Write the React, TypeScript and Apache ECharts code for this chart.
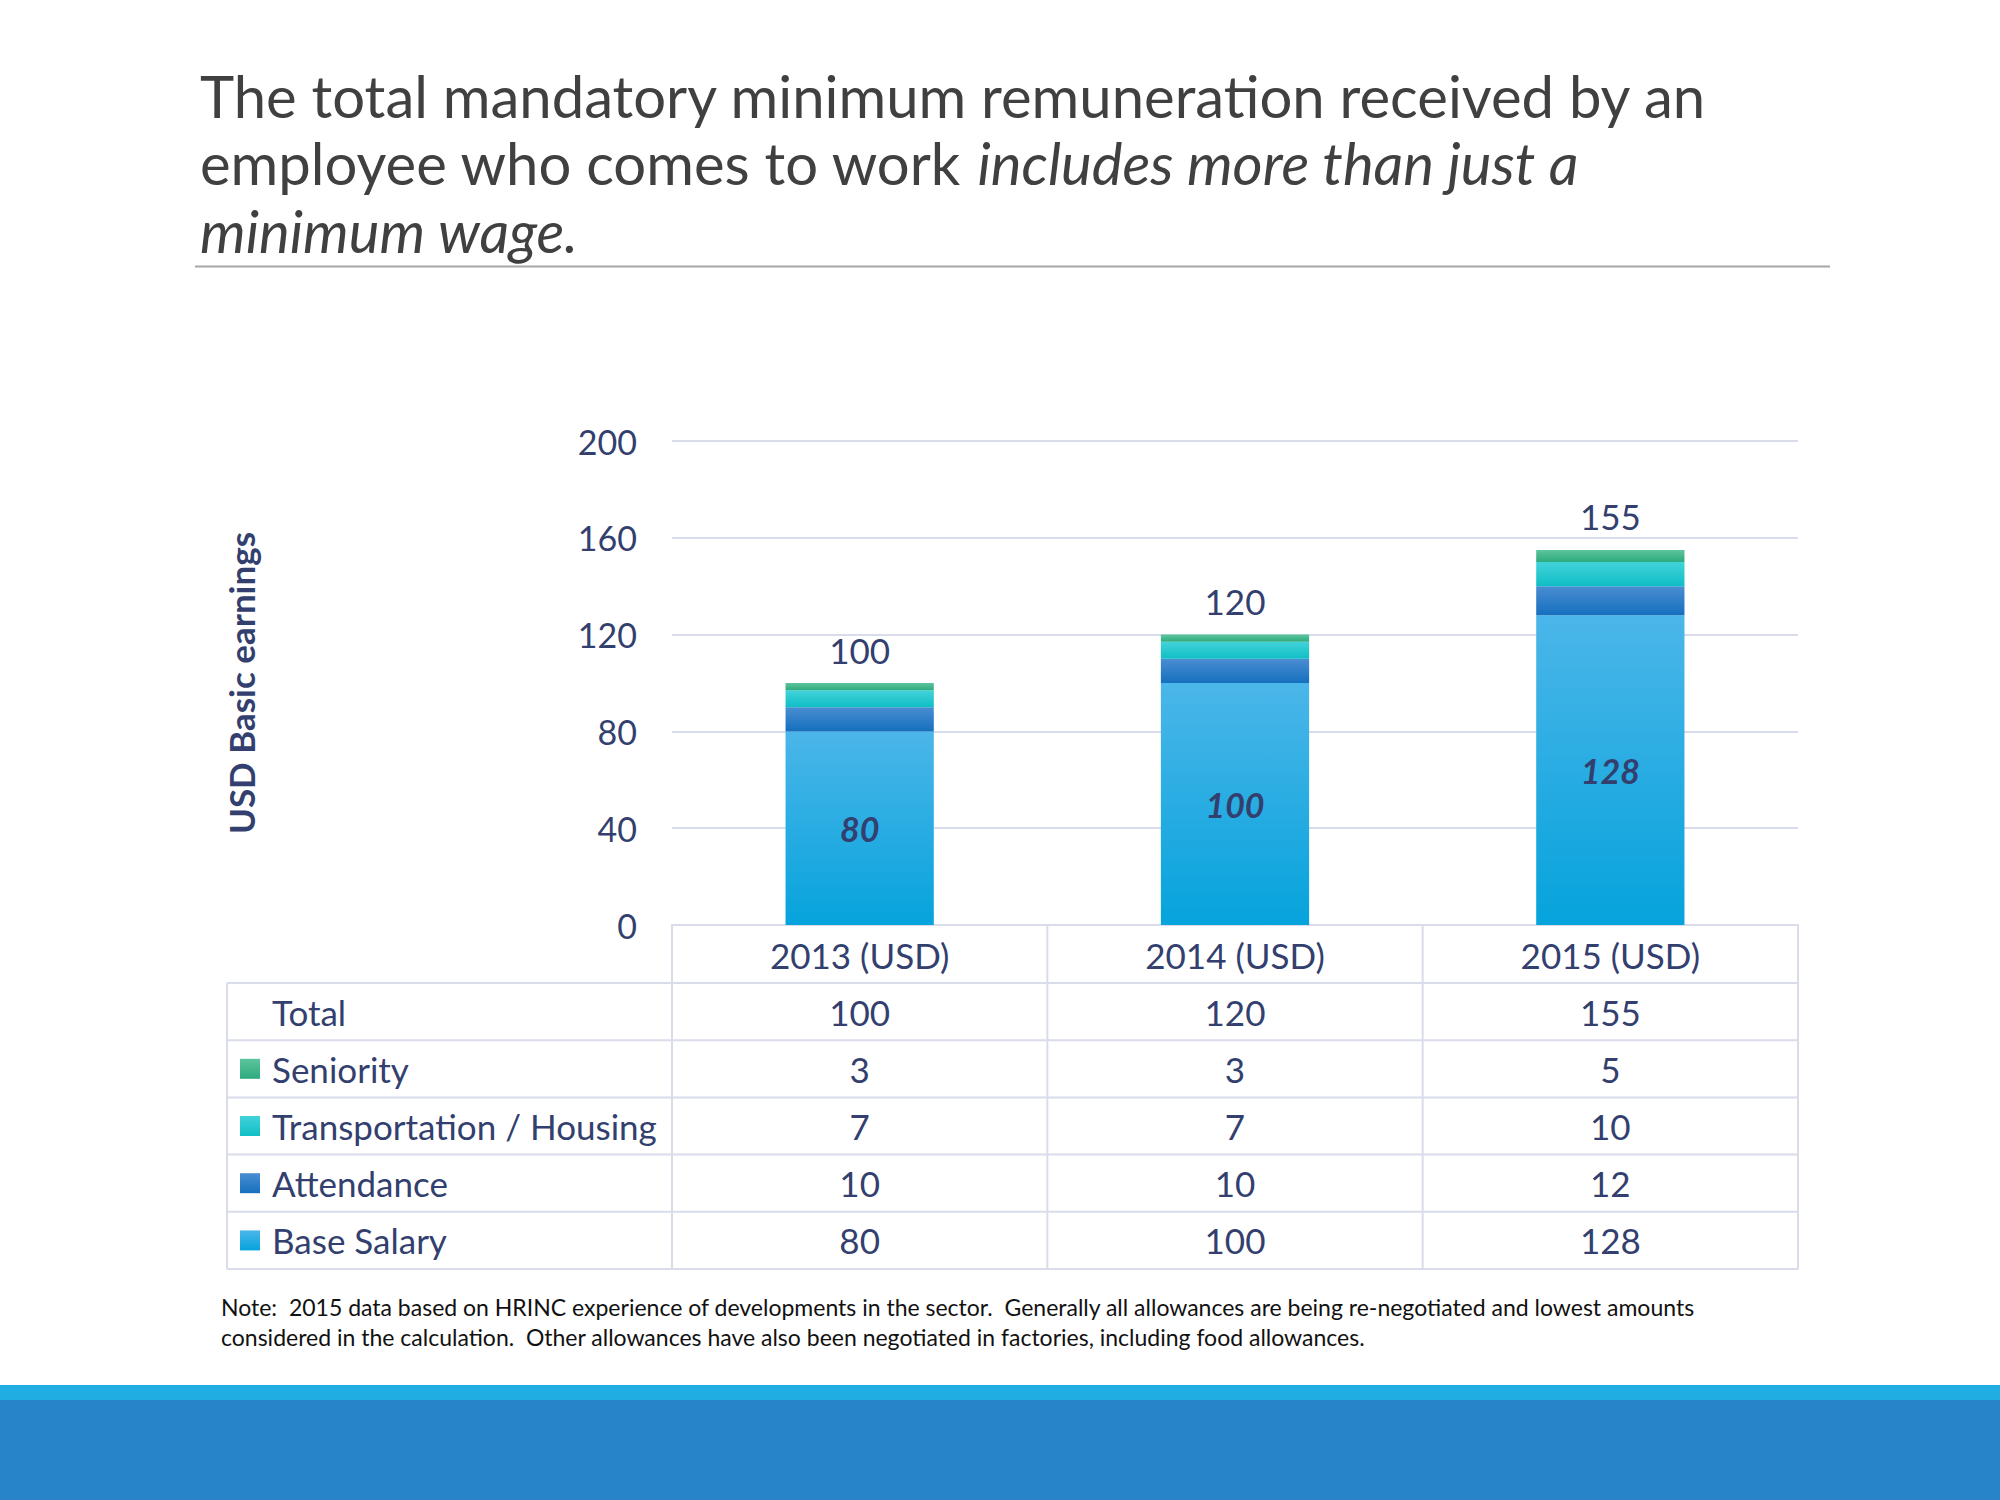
import React, { useEffect, useRef } from "react";
import * as echarts from "echarts";

const categories = ["2013 (USD)", "2014 (USD)", "2015 (USD)"];
const baseSalary = [80, 100, 128];
const attendance = [10, 10, 12];
const transportHousing = [7, 7, 10];
const seniority = [3, 3, 5];
const totals = [100, 120, 155];

const titleLine1 = "The total mandatory minimum remuneration received by an";
const titleLine2Normal = "employee who comes to work ";
const titleLine2Italic = "includes more than just a";
const titleLine3 = "minimum wage.";
const yAxisTitle = "USD Basic earnings";
const noteLine1 =
  "Note:  2015 data based on HRINC experience of developments in the sector.  Generally all allowances are being re-negotiated and lowest amounts";
const noteLine2 =
  "considered in the calculation.  Other allowances have also been negotiated in factories, including food allowances.";

const FONT = "Lato, 'Open Sans', sans-serif";
const NAVY = "#333F6E";
const TITLE = "#404040";
const GRID_LINE = "#D9DCEA";

const grad = (top: string, bottom: string) =>
  new echarts.graphic.LinearGradient(0, 0, 0, 1, [
    { offset: 0, color: top },
    { offset: 1, color: bottom },
  ]);

const colBase = () => grad("#4BB6E9", "#06A3DC");
const colAtt = () => grad("#4A8DD2", "#1570BE");
const colTrans = () => grad("#42D3DA", "#10BEC5");
const colSen = () => grad("#5EC59D", "#2DAA7E");

export default function App() {
  const ref = useRef<HTMLDivElement>(null);
  useEffect(() => {
    if (!ref.current) return;
    const chart = echarts.init(ref.current, undefined, { renderer: "svg" });

    const W = 2000;
    const gridLeft = 672;
    const gridRight = 1798;
    const gridTop = 441;
    const gridBottom = 925;
    const band = (gridRight - gridLeft) / categories.length;
    const tableLeft = 227;
    const rowTop = 983;
    const rowH = 57.2;
    const FS = 35;

    const tableRows = [
      { label: "Total", values: totals, color: null as any },
      { label: "Seniority", values: seniority, color: colSen() },
      { label: "Transportation / Housing", values: transportHousing, color: colTrans() },
      { label: "Attendance", values: attendance, color: colAtt() },
      { label: "Base Salary", values: baseSalary, color: colBase() },
    ];
    const tableBottom = rowTop + rowH * tableRows.length;

    const graphics: any[] = [];
    // Title
    graphics.push({
      type: "text",
      left: 200,
      top: 66,
      style: { text: titleLine1, font: `58px ${FONT}`, fill: TITLE },
    });
    graphics.push({
      type: "text",
      left: 200,
      top: 133,
      style: {
        text: `{n|${titleLine2Normal}}{i|${titleLine2Italic}}`,
        rich: {
          n: { fontSize: 58, fontFamily: FONT, fill: TITLE },
          i: { fontSize: 58, fontFamily: FONT, fontStyle: "italic", fill: TITLE },
        },
      },
    });
    graphics.push({
      type: "text",
      left: 200,
      top: 201,
      style: { text: titleLine3, font: `italic 58px ${FONT}`, fill: TITLE },
    });
    graphics.push({
      type: "line",
      shape: { x1: 195, y1: 266.5, x2: 1830, y2: 266.5 },
      style: { stroke: "#A6A6A6", lineWidth: 2 },
    });

    // Table lines
    const vx = [gridLeft, gridLeft + band, gridLeft + 2 * band, gridRight];
    vx.forEach((x) => {
      graphics.push({
        type: "line",
        shape: { x1: x, y1: gridBottom, x2: x, y2: tableBottom },
        style: { stroke: GRID_LINE, lineWidth: 2 },
      });
    });
    graphics.push({
      type: "line",
      shape: { x1: tableLeft, y1: rowTop, x2: tableLeft, y2: tableBottom },
      style: { stroke: GRID_LINE, lineWidth: 2 },
    });
    for (let r = 0; r <= tableRows.length; r++) {
      const y = rowTop + r * rowH;
      graphics.push({
        type: "line",
        shape: { x1: tableLeft, y1: y, x2: gridRight, y2: y },
        style: { stroke: GRID_LINE, lineWidth: 2 },
      });
    }
    tableRows.forEach((row, r) => {
      const cy = rowTop + r * rowH + rowH / 2;
      if (row.color) {
        graphics.push({
          type: "rect",
          shape: { x: 240, y: cy - 10, width: 20, height: 20 },
          style: { fill: row.color },
        });
      }
      graphics.push({
        type: "text",
        x: 272,
        y: cy,
        style: {
          text: row.label,
          font: `${FS}px ${FONT}`,
          fill: NAVY,
          verticalAlign: "middle",
          align: "left",
        },
      });
      row.values.forEach((v, c) => {
        graphics.push({
          type: "text",
          x: gridLeft + band * (c + 0.5),
          y: cy,
          style: {
            text: String(v),
            font: `${FS}px ${FONT}`,
            fill: NAVY,
            verticalAlign: "middle",
            align: "center",
          },
        });
      });
    });

    // Note
    graphics.push({
      type: "text",
      left: 221,
      top: 1295,
      style: { text: noteLine1, font: `23px ${FONT}`, fill: "#111111" },
    });
    graphics.push({
      type: "text",
      left: 221,
      top: 1325,
      style: { text: noteLine2, font: `23px ${FONT}`, fill: "#111111" },
    });

    // Bottom bands
    graphics.push({
      type: "rect",
      shape: { x: 0, y: 1385, width: W, height: 16 },
      style: { fill: "#1FADE2" },
    });
    graphics.push({
      type: "rect",
      shape: { x: 0, y: 1400, width: W, height: 100 },
      style: { fill: "#2784C7" },
    });

    chart.setOption({
      animation: false,
      backgroundColor: "#ffffff",
      textStyle: { fontFamily: FONT },
      grid: {
        left: gridLeft,
        right: W - gridRight,
        top: gridTop,
        bottom: 1500 - gridBottom,
        containLabel: false,
      },
      xAxis: {
        type: "category",
        data: categories,
        axisLine: { lineStyle: { color: GRID_LINE, width: 2 } },
        axisTick: { show: false },
        axisLabel: { fontSize: FS, color: NAVY, margin: 12, fontFamily: FONT },
      },
      yAxis: {
        type: "value",
        min: 0,
        max: 200,
        interval: 40,
        axisLine: { show: false },
        axisTick: { show: false },
        splitLine: { lineStyle: { color: GRID_LINE, width: 2 } },
        axisLabel: { fontSize: 34, color: NAVY, margin: 35, fontFamily: FONT },
        name: yAxisTitle,
        nameLocation: "middle",
        nameGap: 414,
        nameTextStyle: {
          fontSize: 35,
          fontWeight: "bold",
          color: NAVY,
          fontFamily: FONT,
        },
      },
      series: [
        {
          name: "Base Salary",
          type: "bar",
          stack: "total",
          barWidth: "39.5%",
          data: baseSalary,
          itemStyle: { color: colBase() },
          label: {
            show: true,
            position: "inside",
            fontSize: 34,
            fontStyle: "italic",
            fontWeight: "bold",
            fontFamily: FONT,
            color: NAVY,
          },
        },
        {
          name: "Attendance",
          type: "bar",
          stack: "total",
          data: attendance,
          itemStyle: { color: colAtt() },
        },
        {
          name: "Transportation / Housing",
          type: "bar",
          stack: "total",
          data: transportHousing,
          itemStyle: { color: colTrans() },
        },
        {
          name: "Seniority",
          type: "bar",
          stack: "total",
          data: seniority,
          itemStyle: { color: colSen() },
          label: {
            show: true,
            position: "top",
            distance: 16,
            fontSize: FS,
            color: NAVY,
            fontFamily: FONT,
            formatter: (p: any) => String(totals[p.dataIndex]),
          },
        },
      ],
      graphic: graphics,
    });
    return () => chart.dispose();
  }, []);

  return (
    <div
      ref={ref}
      style={{ position: "fixed", left: 0, top: 0, width: 2000, height: 1500 }}
    />
  );
}
